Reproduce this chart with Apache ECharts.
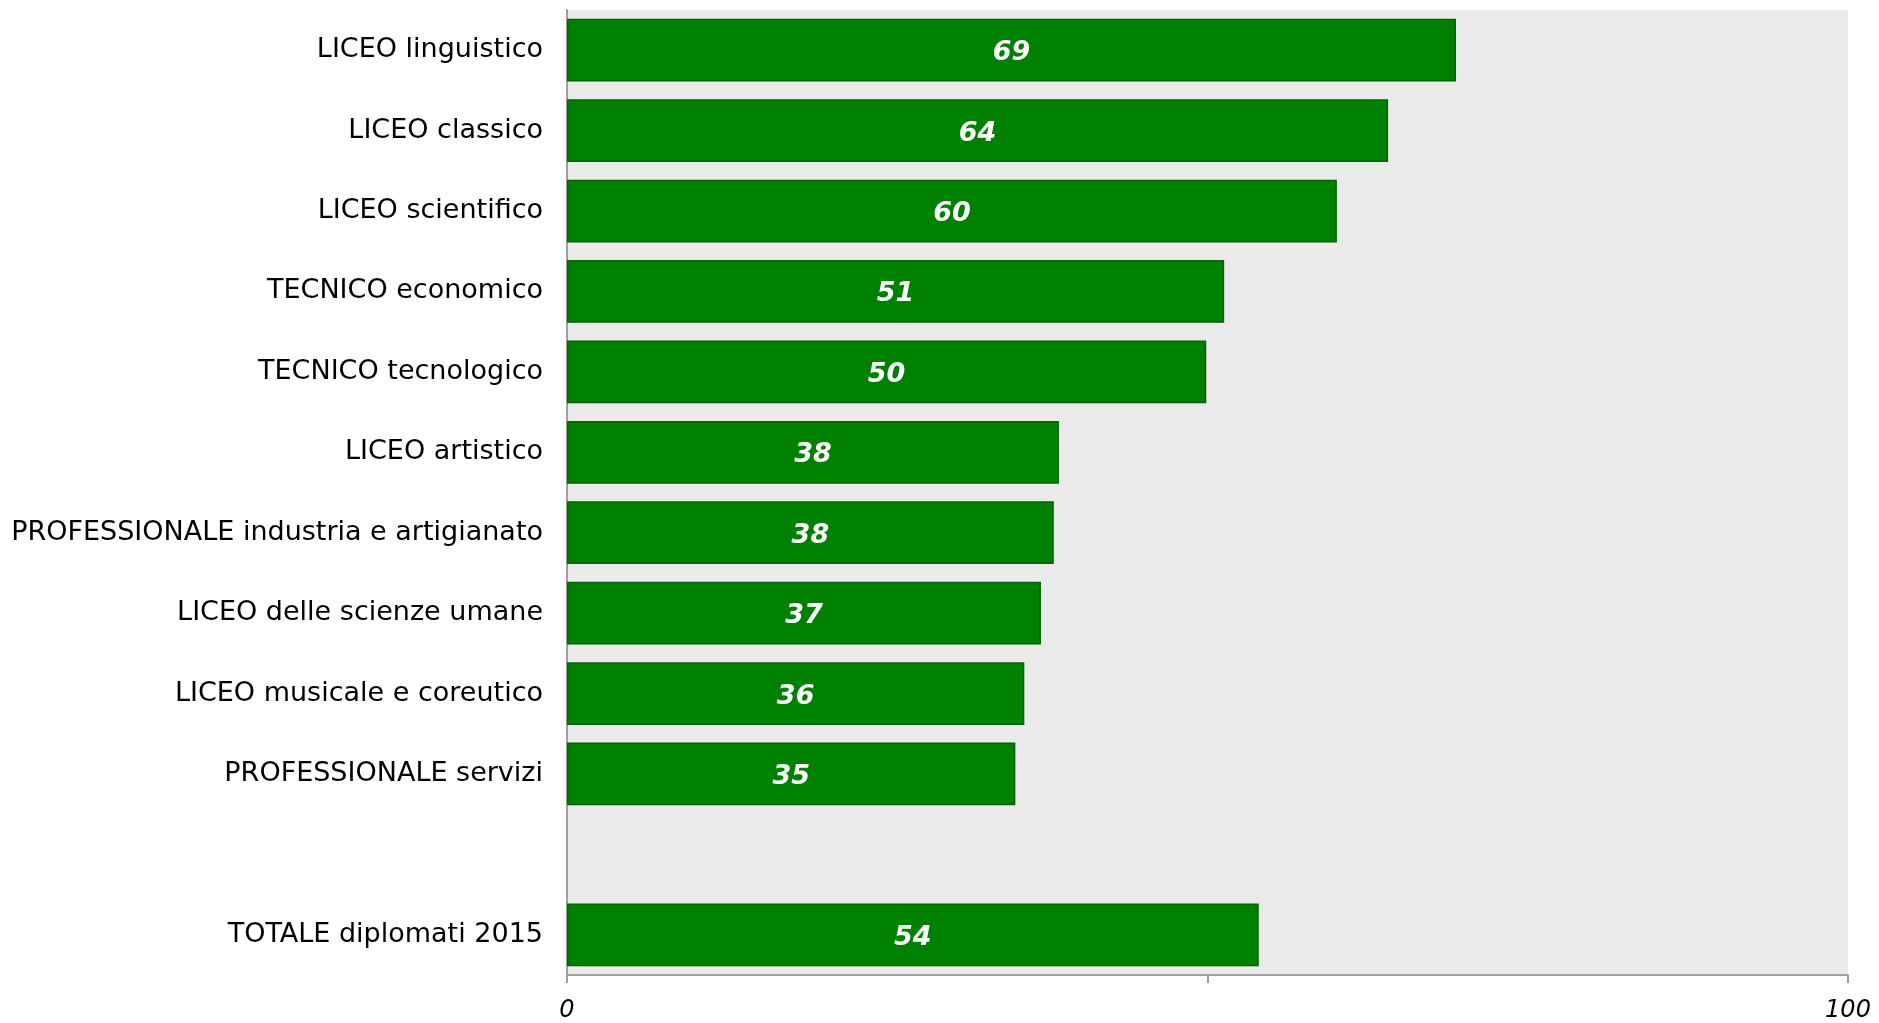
<!DOCTYPE html>
<html>
<head>
<meta charset="utf-8">
<script src="https://cdn.jsdelivr.net/npm/echarts@6/dist/echarts.min.js"></script>
<style>
html,body{margin:0;padding:0;background:#fff;}
#chart{width:1879px;height:1023px;}
</style>
</head>
<body>
<div id="chart"></div>
<script>
var categories = [
  "LICEO linguistico",
  "LICEO classico",
  "LICEO scientifico",
  "TECNICO economico",
  "TECNICO tecnologico",
  "LICEO artistico",
  "PROFESSIONALE industria e artigianato",
  "LICEO delle scienze umane",
  "LICEO musicale e coreutico",
  "PROFESSIONALE servizi",
  "",
  "TOTALE diplomati 2015"
];
var values = [69.4, 64.1, 60.1, 51.3, 49.9, 38.4, 38.0, 37.0, 35.7, 35.0, null, 54.0];
var xTickLabels = { 0: "0", 100: "100" };

var chart = echarts.init(document.getElementById('chart'), null, {renderer: 'canvas'});
chart.setOption({
  animation: false,
  backgroundColor: '#ffffff',
  grid: {
    left: 567, right: 31, top: 10, bottom: 48,
    show: true, backgroundColor: '#EAEAEA', borderWidth: 0
  },
  xAxis: {
    type: 'value', min: 0, max: 100, interval: 50,
    splitLine: {show: false},
    axisLine: {show: true, lineStyle: {color: '#A0A0A0', width: 2}},
    axisTick: {show: true, length: 8, lineStyle: {color: '#A0A0A0', width: 2}},
    axisLabel: {
      margin: 24,
      fontFamily: 'DejaVu Sans', fontStyle: 'italic', fontSize: 24, color: '#000',
      formatter: function (v) { return xTickLabels[v] !== undefined ? xTickLabels[v] : ''; }
    }
  },
  yAxis: {
    type: 'category', data: categories, inverse: true,
    axisLine: {show: true, lineStyle: {color: '#A0A0A0', width: 2}},
    axisTick: {show: false},
    axisLabel: {
      margin: 24,
      fontFamily: 'DejaVu Sans', fontSize: 27, color: '#000'
    }
  },
  series: [{
    type: 'bar',
    data: values,
    barWidth: '78%',
    itemStyle: {color: '#008000', borderColor: '#006400', borderWidth: 1.5},
    label: {
      show: true, position: 'inside', offset: [0, 3],
      fontFamily: 'DejaVu Sans', fontStyle: 'italic', fontWeight: 'bold',
      fontSize: 27, color: '#ffffff',
      formatter: function (p) { return Math.round(p.value); }
    }
  }]
});
</script>
</body>
</html>
